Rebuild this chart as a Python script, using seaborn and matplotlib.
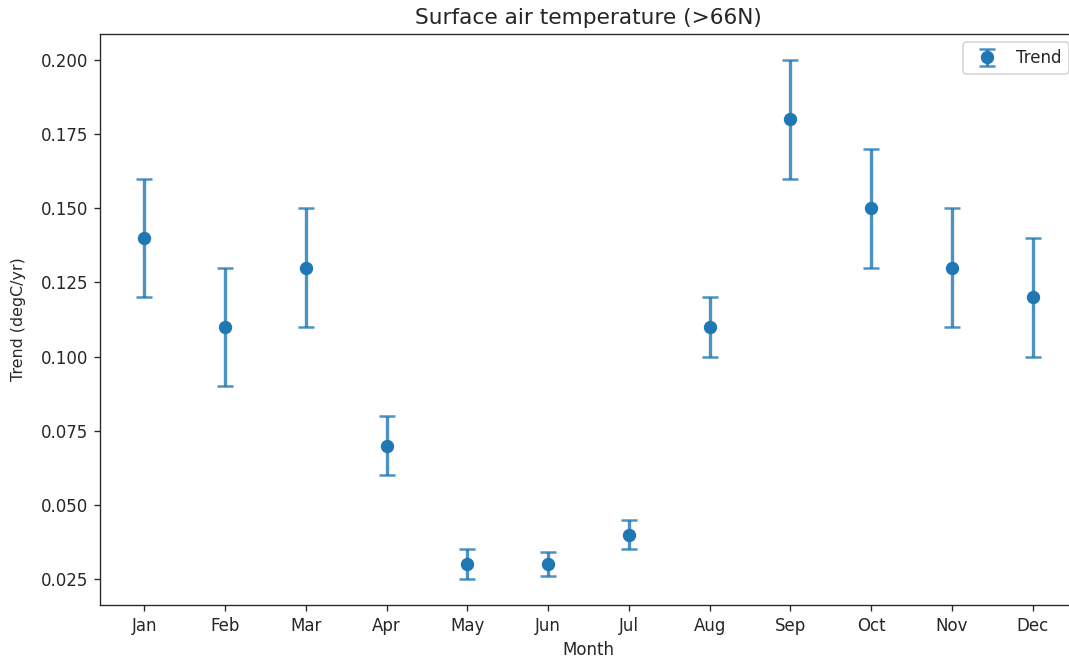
import matplotlib
matplotlib.use("Agg")
import matplotlib.pyplot as plt
import seaborn as sns
import numpy as np
import pandas as pd

months = ["Jan", "Feb", "Mar", "Apr", "May", "Jun",
          "Jul", "Aug", "Sep", "Oct", "Nov", "Dec"]
trend = [0.14, 0.11, 0.13, 0.07, 0.03, 0.03, 0.04, 0.11, 0.18, 0.15, 0.13, 0.12]
trend_err = [0.02, 0.02, 0.02, 0.01, 0.005, 0.004, 0.005, 0.01, 0.02, 0.02, 0.02, 0.02]

df = pd.DataFrame({"Month": months, "Trend": trend, "err": trend_err})
df["pos"] = np.arange(len(months))

sns.set_style("ticks", {"axes.spines.right": True, "axes.spines.top": True})
plt.rcParams["font.family"] = ["DejaVu Sans"]

dpi = 120
fig = plt.figure(figsize=(1069 / dpi, 661 / dpi), dpi=dpi)
ax = fig.add_axes([100 / 1069, (661 - 605) / 661, 977 / 1069, 571 / 661])

color = sns.color_palette("tab10")[0]
ax.errorbar(df["pos"], df["Trend"], yerr=df["err"], fmt="o", color=color,
            markersize=7, elinewidth=2, capsize=5, capthick=1.5,
            ecolor=(*color, 0.8), label="Trend")
sns.scatterplot(data=df, x="pos", y="Trend", color=color, s=48,
                edgecolor=color, linewidth=0, ax=ax, zorder=3, legend=False)

ax.set_xticks(df["pos"])
ax.set_xticklabels(months)
ax.set_xlabel("Month")
ax.set_ylabel("Trend (degC/yr)", fontsize=9.5, labelpad=9)
ax.set_title("Surface air temperature (>66N)", fontsize=13)
ax.yaxis.set_major_formatter(matplotlib.ticker.FormatStrFormatter("%.3f"))
ax.legend(loc="upper right")

fig.savefig("out.png", dpi=dpi)
